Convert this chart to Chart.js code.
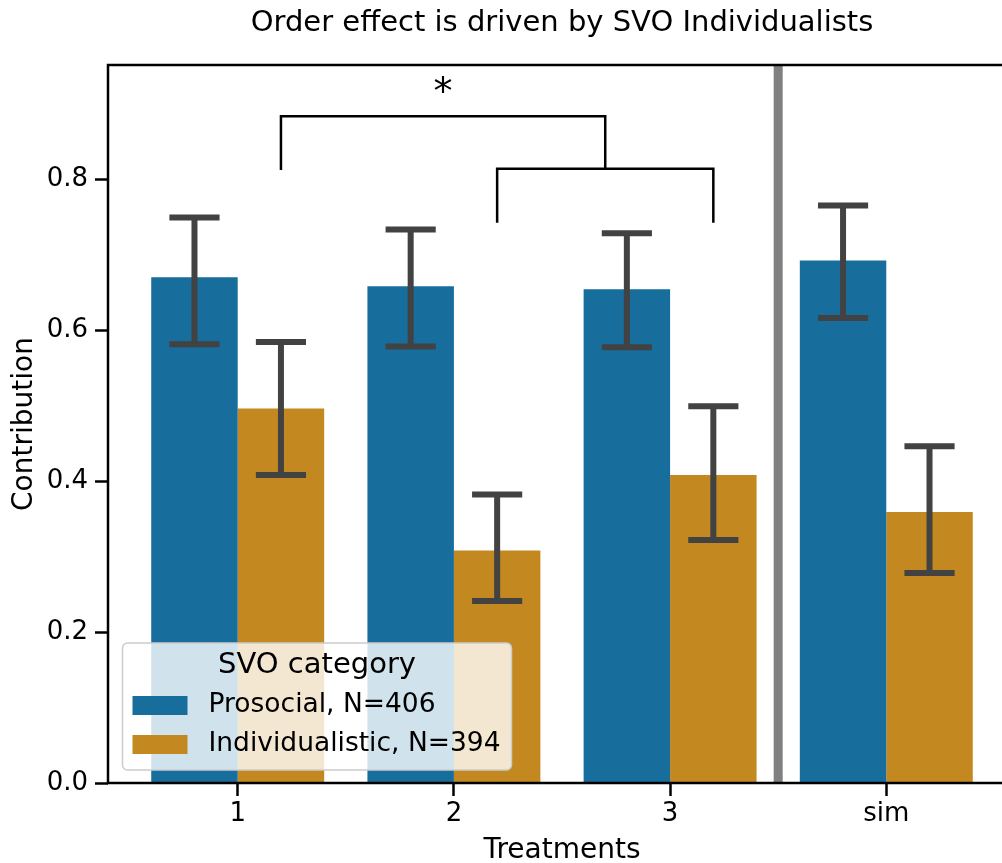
<!DOCTYPE html>
<html>
<head>
<meta charset="utf-8">
<script src="https://cdn.jsdelivr.net/npm/chart.js@4.4.1/dist/chart.umd.min.js"></script>
<style>
html, body { margin: 0; padding: 0; background: #fff; overflow: hidden; }
canvas { display: block; }
</style>
</head>
<body>
<canvas id="chart" width="1016" height="863"></canvas>
<script>
// Treatments on the x axis
const categories = ['1', '2', '3', 'sim'];
const seriesLabels = ['Prosocial, N=406', 'Individualistic, N=394'];

// Mean contribution per treatment
const prosocialMean = [0.670, 0.658, 0.654, 0.692];
const individualisticMean = [0.496, 0.308, 0.408, 0.359];

// Confidence interval bounds
const prosocialLow = [0.581, 0.578, 0.577, 0.616];
const prosocialHigh = [0.749, 0.733, 0.728, 0.765];
const individualisticLow = [0.408, 0.241, 0.322, 0.278];
const individualisticHigh = [0.584, 0.382, 0.499, 0.446];

const yTicks = [0, 0.2, 0.4, 0.6, 0.8];

// Significance brackets (data units): outer = 1 vs (2,3), inner = 2 vs 3
const outerBracket = [0.883, 0.812];  // top, left leg end
const innerBracket = [0.8135, 0.742]; // top, legs end
const starLevel = 0.912;
const separatorAt = 2.5;              // grey line between 3 and sim

const FONT = '"DejaVu Sans", sans-serif';

// Error bars, separator, brackets and the frame
const annotations = {
    id: 'annotations',
    afterDatasetsDraw(chart) {
        const ctx = chart.ctx;
        const xs = chart.scales.x, ys = chart.scales.y;
        const area = chart.chartArea;
        ctx.save();

        // grey separator
        const sx = xs.getPixelForValue(separatorAt);
        ctx.strokeStyle = '#808080';
        ctx.lineWidth = 9;
        ctx.beginPath();
        ctx.moveTo(sx, area.top);
        ctx.lineTo(sx, area.bottom);
        ctx.stroke();

        // error bars
        const bounds = [[prosocialLow, prosocialHigh], [individualisticLow, individualisticHigh]];
        ctx.strokeStyle = '#424242';
        ctx.lineWidth = 6;
        bounds.forEach(([lo, hi], d) => {
            chart.getDatasetMeta(d).data.forEach((bar, i) => {
                const y0 = ys.getPixelForValue(lo[i]);
                const y1 = ys.getPixelForValue(hi[i]);
                const half = bar.width * 0.29;
                ctx.beginPath();
                ctx.moveTo(bar.x, y0); ctx.lineTo(bar.x, y1);
                ctx.moveTo(bar.x - half, y0); ctx.lineTo(bar.x + half, y0);
                ctx.moveTo(bar.x - half, y1); ctx.lineTo(bar.x + half, y1);
                ctx.stroke();
            });
        });

        // brackets between the individualistic bars
        const ind = chart.getDatasetMeta(1).data;
        const a = ind[0].x, b = ind[1].x, c = ind[2].x;
        const mid = (b + c) / 2;
        const oTop = ys.getPixelForValue(outerBracket[0]);
        const oEnd = ys.getPixelForValue(outerBracket[1]);
        const iTop = ys.getPixelForValue(innerBracket[0]);
        const iEnd = ys.getPixelForValue(innerBracket[1]);
        ctx.strokeStyle = '#000';
        ctx.lineWidth = 2.5;
        ctx.beginPath();
        ctx.moveTo(a, oEnd); ctx.lineTo(a, oTop); ctx.lineTo(mid, oTop); ctx.lineTo(mid, iTop);
        ctx.moveTo(b, iEnd); ctx.lineTo(b, iTop); ctx.lineTo(c, iTop); ctx.lineTo(c, iEnd);
        ctx.stroke();
        ctx.fillStyle = '#000';
        ctx.font = '38px ' + FONT;
        ctx.textAlign = 'center';
        ctx.textBaseline = 'middle';
        ctx.fillText('*', (a + mid) / 2, ys.getPixelForValue(starLevel));

        // axes frame
        ctx.strokeStyle = '#000';
        ctx.lineWidth = 2.5;
        ctx.strokeRect(area.left, area.top, area.right - area.left, area.bottom - area.top);
        ctx.restore();
    }
};

// Legend box inside the plot, lower left
const svoLegend = {
    id: 'svoLegend',
    afterDraw(chart) {
        const ctx = chart.ctx, area = chart.chartArea;
        const sets = chart.data.datasets;
        ctx.save();
        ctx.font = '26.5px ' + FONT;
        const textW = Math.max(...sets.map(d => ctx.measureText(d.label).width));
        const boxW = 10 + 55 + 21 + textW + 11;
        const boxH = 127;
        const boxX = area.left + 14.5;
        const boxY = area.bottom - 13 - boxH;

        ctx.beginPath();
        ctx.roundRect(boxX, boxY, boxW, boxH, 5);
        ctx.fillStyle = 'rgba(255,255,255,0.8)';
        ctx.fill();
        ctx.strokeStyle = '#cccccc';
        ctx.lineWidth = 1.5;
        ctx.stroke();

        ctx.fillStyle = '#000';
        ctx.textBaseline = 'middle';
        ctx.textAlign = 'center';
        ctx.font = '29px ' + FONT;
        ctx.fillText('SVO category', boxX + boxW / 2, boxY + 22);

        ctx.font = '26.5px ' + FONT;
        ctx.textAlign = 'left';
        sets.forEach((d, k) => {
            const cy = boxY + 62.5 + k * 39;
            ctx.fillStyle = d.backgroundColor;
            ctx.fillRect(boxX + 10, cy - 9.5, 55, 19);
            ctx.fillStyle = '#000';
            ctx.fillText(d.label, boxX + 86, cy);
        });
        ctx.restore();
    }
};

new Chart(document.getElementById('chart'), {
    type: 'bar',
    data: {
        datasets: [
            {
                label: seriesLabels[0],
                data: prosocialMean.map((v, i) => ({ x: i, y: v })),
                backgroundColor: '#176d9c',
                borderWidth: 0,
                categoryPercentage: 0.8,
                barPercentage: 1.0
            },
            {
                label: seriesLabels[1],
                data: individualisticMean.map((v, i) => ({ x: i, y: v })),
                backgroundColor: '#c38820',
                borderWidth: 0,
                categoryPercentage: 0.8,
                barPercentage: 1.0
            }
        ]
    },
    options: {
        responsive: false,
        animation: false,
        layout: { padding: 0 },
        plugins: {
            legend: { display: false },
            tooltip: { enabled: false },
            title: {
                display: true,
                text: 'Order effect is driven by SVO Individualists',
                color: '#000',
                fullSize: false,
                font: { family: FONT, size: 29, weight: 'normal', lineHeight: 1 },
                padding: { top: 9, bottom: 27 }
            }
        },
        scales: {
            x: {
                type: 'linear',
                min: -0.6,
                max: 3.6,
                offset: false,
                afterBuildTicks: axis => { axis.ticks = categories.map((c, i) => ({ value: i })); },
                afterFit: scale => { scale.height = 80; },
                ticks: {
                    callback: v => categories[v],
                    color: '#000',
                    font: { family: FONT, size: 26 },
                    padding: 3,
                    autoSkip: false,
                    maxRotation: 0
                },
                grid: {
                    offset: false,
                    drawOnChartArea: false,
                    drawTicks: true,
                    tickLength: 13,
                    tickWidth: 2.5,
                    tickColor: '#000'
                },
                border: { display: false },
                title: {
                    display: true,
                    text: 'Treatments',
                    color: '#000',
                    font: { family: FONT, size: 28, lineHeight: 1 },
                    padding: { top: 0, bottom: -2 }
                }
            },
            y: {
                min: 0,
                max: 0.951,
                afterBuildTicks: axis => { axis.ticks = yTicks.map(v => ({ value: v })); },
                afterFit: scale => { scale.width = 108; },
                ticks: {
                    callback: v => v.toFixed(1),
                    color: '#000',
                    font: { family: FONT, size: 26 },
                    padding: 7
                },
                grid: {
                    drawOnChartArea: false,
                    drawTicks: true,
                    tickLength: 13,
                    tickWidth: 2.5,
                    tickColor: '#000'
                },
                border: { display: false },
                title: {
                    display: true,
                    text: 'Contribution',
                    color: '#000',
                    font: { family: FONT, size: 28, lineHeight: 1.2 },
                    padding: { top: 8, bottom: 0 }
                }
            }
        }
    },
    plugins: [annotations, svoLegend]
});
</script>
</body>
</html>
